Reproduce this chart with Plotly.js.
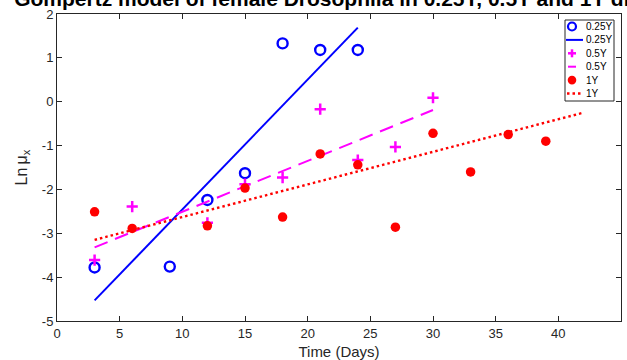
<!DOCTYPE html>
<html>
<head>
<meta charset="utf-8">
<script src="https://cdn.plot.ly/plotly-3.0.1.min.js"></script>
<style>html,body{margin:0;padding:0;background:#fff;}#chart{width:627px;height:360px;}</style>
</head>
<body>
<div id="chart"></div>
<script>
// ---- data ----
const days025 = [3, 9, 12, 15, 18, 21, 24];
const lnmu025 = [-3.78, -3.76, -2.24, -1.63, 1.33, 1.18, 1.18];
const fitX025 = [3, 24];
const fitY025 = [-4.53, 1.69];

const days05 = [3, 6, 12, 15, 18, 21, 24, 27, 30];
const lnmu05 = [-3.61, -2.39, -2.76, -1.88, -1.73, -0.17, -1.33, -1.03, 0.09];
const fitX05 = [3, 30];
const fitY05 = [-3.32, -0.19];

const days1 = [3, 6, 12, 15, 18, 21, 24, 27, 30, 33, 36, 39];
const lnmu1 = [-2.51, -2.89, -2.83, -1.97, -2.63, -1.19, -1.44, -2.86, -0.72, -1.60, -0.75, -0.90];
const fitX1 = [3, 42];
const fitY1 = [-3.15, -0.25];

const legendLabels = ['0.25Y', '0.25Y', '0.5Y', '0.5Y', '1Y', '1Y'];
const xTicks = [0, 5, 10, 15, 20, 25, 30, 35, 40, 45];
const yTicks = [-5, -4, -3, -2, -1, 0, 1, 2];

// ---- layout geometry ----
const W = 627, H = 360;
const M = {l: 57, r: 6, t: 14, b: 39};
const PW = W - M.l - M.r, PH = H - M.t - M.b;
const px = v => (v - M.l) / PW;           // pixel x -> paper x
const py = v => (H - M.b - v) / PH;       // pixel y -> paper y

const BLUE = '#0000ff', MAG = '#ff00ff', RED = '#ff0000';
const FONT = 'Liberation Sans, Arial, Helvetica, sans-serif';
const AX = '#262626';

const traces = [
  {x: days025, y: lnmu025, mode: 'markers', name: '0.25Y', type: 'scatter',
   marker: {symbol: 'circle-open', size: 10, color: BLUE, line: {width: 2.4, color: BLUE}}},
  {x: fitX025, y: fitY025, mode: 'lines', name: '0.25Y', type: 'scatter',
   line: {color: BLUE, width: 2}},
  {x: days05, y: lnmu05, mode: 'markers', name: '0.5Y', type: 'scatter',
   marker: {symbol: 'cross-thin-open', size: 8, color: MAG, line: {width: 2.5, color: MAG}}},
  {x: fitX05, y: fitY05, mode: 'lines', name: '0.5Y', type: 'scatter',
   line: {color: MAG, width: 2, dash: '14px,8px'}},
  {x: days1, y: lnmu1, mode: 'markers', name: '1Y', type: 'scatter',
   marker: {symbol: 'circle', size: 9.5, color: RED}},
  {x: fitX1, y: fitY1, mode: 'lines', name: '1Y', type: 'scatter',
   line: {color: RED, width: 2.4, dash: '2.5px,3px'}}
];

// ---- custom legend (MATLAB style) ----
const shapes = [];
const annotations = [];
const LX0 = 565, LX1 = 614, LY0 = 20, LY1 = 101;
shapes.push({type: 'rect', xref: 'paper', yref: 'paper',
  x0: px(LX0), x1: px(LX1), y0: py(LY1), y1: py(LY0),
  fillcolor: '#ffffff', line: {color: AX, width: 1}, layer: 'above'});
const rowY = i => 26.5 + i * 13.4;
const gx = 572;
// 0.25Y circle
shapes.push({type: 'circle', xref: 'paper', yref: 'paper', layer: 'above',
  x0: px(gx - 4), x1: px(gx + 4), y0: py(rowY(0) + 4), y1: py(rowY(0) - 4),
  line: {color: BLUE, width: 2.2}});
// 0.25Y solid line
shapes.push({type: 'line', xref: 'paper', yref: 'paper', layer: 'above',
  x0: px(566), x1: px(583), y0: py(rowY(1)), y1: py(rowY(1)),
  line: {color: BLUE, width: 2}});
// 0.5Y plus
shapes.push({type: 'line', xref: 'paper', yref: 'paper', layer: 'above',
  x0: px(gx - 4), x1: px(gx + 4), y0: py(rowY(2)), y1: py(rowY(2)),
  line: {color: MAG, width: 2.5}});
shapes.push({type: 'line', xref: 'paper', yref: 'paper', layer: 'above',
  x0: px(gx), x1: px(gx), y0: py(rowY(2) - 4), y1: py(rowY(2) + 4),
  line: {color: MAG, width: 2.5}});
// 0.5Y dash
shapes.push({type: 'line', xref: 'paper', yref: 'paper', layer: 'above',
  x0: px(568), x1: px(576), y0: py(rowY(3)), y1: py(rowY(3)),
  line: {color: MAG, width: 2}});
// 1Y dot
shapes.push({type: 'circle', xref: 'paper', yref: 'paper', layer: 'above',
  x0: px(gx - 4.3), x1: px(gx + 4.3), y0: py(rowY(4) + 4.3), y1: py(rowY(4) - 4.3),
  fillcolor: RED, line: {color: RED, width: 0}});
// 1Y dotted
shapes.push({type: 'line', xref: 'paper', yref: 'paper', layer: 'above',
  x0: px(567), x1: px(581), y0: py(rowY(5)), y1: py(rowY(5)),
  line: {color: RED, width: 2.4, dash: '2.5px,3px'}});
legendLabels.forEach((t, i) => {
  annotations.push({text: t, xref: 'paper', yref: 'paper', x: px(584), y: py(rowY(i)),
    xanchor: 'left', yanchor: 'middle', showarrow: false,
    font: {family: FONT, size: 10, color: '#000'}});
});

const layout = {
  width: W, height: H,
  margin: M,
  paper_bgcolor: '#ffffff', plot_bgcolor: '#ffffff',
  showlegend: false,
  font: {family: FONT, size: 13, color: AX},
  title: {text: 'Gompertz model of female Drosophila in 0.25Y, 0.5Y and 1Y diets',
    font: {family: FONT, size: 21, color: '#000', weight: 'bold'},
    x: (M.l + PW / 2) / W - 2 / W, xanchor: 'center', xref: 'container',
    y: 1 - 6 / H, yanchor: 'bottom', yref: 'container'},
  xaxis: {range: [0, 45], tickvals: xTicks, ticktext: xTicks.map(String),
    ticks: 'inside', ticklen: 5, tickcolor: AX, showline: true, linecolor: AX, linewidth: 1,
    mirror: 'ticks', showgrid: false, zeroline: false,
    tickfont: {family: FONT, size: 13, color: AX},
    title: {text: 'Time (Days)', font: {family: FONT, size: 15, color: AX}, standoff: 7}},
  yaxis: {range: [-5, 2], tickvals: yTicks, ticktext: yTicks.map(String),
    ticks: 'inside', ticklen: 5, tickcolor: AX, showline: true, linecolor: AX, linewidth: 1,
    mirror: 'ticks', showgrid: false, zeroline: false,
    tickfont: {family: FONT, size: 13, color: AX},
    title: {text: 'Ln\u2009\u03bc<sub>x</sub>', font: {family: FONT, size: 16, color: AX}, standoff: 10}},
  shapes: shapes,
  annotations: annotations
};

Plotly.newPlot('chart', traces, layout, {displayModeBar: false, staticPlot: true});
</script>
</body>
</html>
